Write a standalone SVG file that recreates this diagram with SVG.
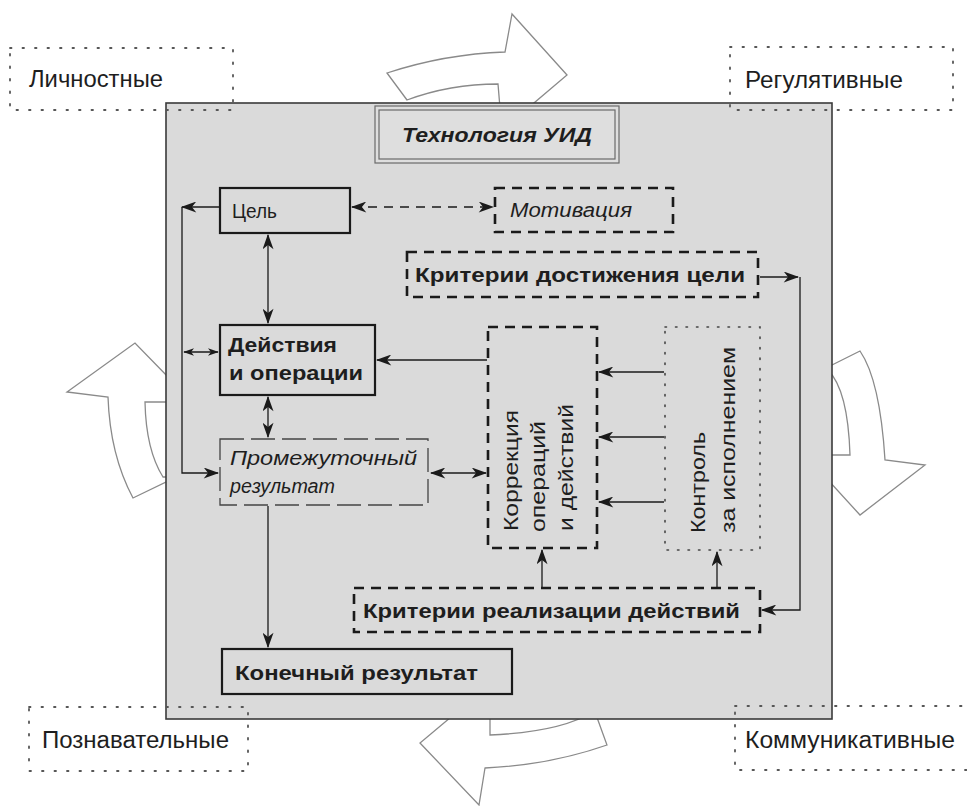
<svg xmlns="http://www.w3.org/2000/svg" width="967" height="806" viewBox="0 0 967 806">
<defs>
<marker id="ah" viewBox="0 0 14 10" refX="13" refY="5" markerWidth="16" markerHeight="11" markerUnits="userSpaceOnUse" orient="auto-start-reverse">
<path d="M0,0 L14,5 L0,10 L4,5 Z" fill="#1a1a1a"/>
</marker>
<marker id="ahs" viewBox="0 0 14 10" refX="13" refY="5" markerWidth="11" markerHeight="8" markerUnits="userSpaceOnUse" orient="auto-start-reverse">
<path d="M0,0 L14,5 L0,10 L4,5 Z" fill="#1a1a1a"/>
</marker>
</defs>
<style>
text{font-family:"Liberation Sans",Arial,sans-serif;fill:#1e1e1e}
.side{font-size:23px}
.reg{font-size:20px}
.b{font-weight:bold}
.i{font-style:italic}
.hollow{fill:#ffffff;stroke:#8a8a8a;stroke-width:1.3;stroke-linejoin:miter}
.solid{fill:none;stroke:#1a1a1a;stroke-width:2.2}
.dash{fill:none;stroke:#1a1a1a;stroke-width:2.6;stroke-dasharray:10 7}
.ldash{fill:none;stroke:#444;stroke-width:1.3;stroke-dasharray:24 7}
.dot{fill:none;stroke:#444;stroke-width:1.6;stroke-dasharray:1.5 9;stroke-linecap:round}
.sdot{fill:none;stroke:#555;stroke-width:1.8;stroke-dasharray:1.5 11;stroke-linecap:round}
.con{fill:none;stroke:#1a1a1a;stroke-width:1.3}
.cond{fill:none;stroke:#1a1a1a;stroke-width:1.6;stroke-dasharray:9 7}
</style>

<g id="cycle-arrows">
<path class="hollow" d="M407,100 L387,73 Q445,54 505,52 L512,14 L567,75 L528,108 L500,108 L498,84 Q450,84 407,100 Z"/>
<path class="hollow" d="M828,367 L860,351 Q880,380 885,460 L925,465 L860,515 L828,480 L828,455 L850,455 Q848,390 828,370 Z"/>
<path class="hollow" d="M170,379 L135,343 L67,392 L108,397 Q110,455 133,498 L170,480 L170,477 L163,477 Q146,450 145,402 L170,402 Z"/>
<path class="hollow" d="M457,712 L420,743 L479,805 L485,768 Q550,765 607,745 L595,712 L593,712 Q560,732 490,735 L490,712 Z"/>
</g>

<g id="panel">
<rect x="166" y="103" width="666" height="616" fill="#dadada" stroke="#3a3a3a" stroke-width="1.6"/>
</g>

<g id="lichnostnye">
<rect class="sdot" x="10" y="48" width="223" height="62"/>
<text class="side" x="29" y="87" textLength="134" lengthAdjust="spacingAndGlyphs">Личностные</text>
</g>
<g id="regulyativnye">
<rect class="sdot" x="730" y="47" width="223" height="63"/>
<text class="side" x="745" y="88" textLength="158" lengthAdjust="spacingAndGlyphs">Регулятивные</text>
</g>
<g id="poznavatelnye">
<rect class="sdot" x="29" y="707" width="219" height="64"/>
<text class="side" x="42" y="748" textLength="187" lengthAdjust="spacingAndGlyphs">Познавательные</text>
</g>
<g id="kommunikativnye">
<rect class="sdot" x="735" y="706" width="240" height="64"/>
<text class="side" x="745" y="748" textLength="210" lengthAdjust="spacingAndGlyphs">Коммуникативные</text>
</g>

<g id="title">
<rect x="375" y="106" width="244" height="57" fill="#dedede" stroke="#6a6a6a" stroke-width="1.2"/>
<rect x="379" y="110" width="236" height="49" fill="none" stroke="#6a6a6a" stroke-width="1.2"/>
<text class="b i" x="402" y="142" font-size="21" textLength="190" lengthAdjust="spacingAndGlyphs">Технология  УИД</text>
</g>

<g id="tsel">
<rect class="solid" x="220" y="188" width="130" height="45"/>
<text class="reg" x="232" y="218" textLength="45" lengthAdjust="spacingAndGlyphs">Цель</text>
</g>
<g id="motivatsiya">
<rect class="dash" x="495" y="188" width="178" height="44"/>
<text class="reg i" x="510" y="217" textLength="122" lengthAdjust="spacingAndGlyphs">Мотивация</text>
</g>
<g id="kriterii-dostizheniya">
<rect class="dash" x="407" y="252" width="351" height="45"/>
<text class="reg b" x="415" y="282" textLength="330" lengthAdjust="spacingAndGlyphs">Критерии  достижения  цели</text>
</g>
<g id="deystviya">
<rect class="solid" x="220" y="325" width="155" height="70"/>
<text class="b" font-size="21" x="228" y="352" textLength="109" lengthAdjust="spacingAndGlyphs">Действия</text>
<text class="b" font-size="21" x="229" y="380" textLength="134" lengthAdjust="spacingAndGlyphs">и  операции</text>
</g>
<g id="promezhutochny">
<rect class="ldash" x="220" y="439" width="208" height="66"/>
<text class="reg i" x="230" y="465" textLength="187" lengthAdjust="spacingAndGlyphs">Промежуточный</text>
<text class="reg i" x="230" y="493" textLength="105" lengthAdjust="spacingAndGlyphs">результат</text>
</g>
<g id="korrektsiya">
<rect class="dash" x="488" y="327" width="109" height="221"/>
<text class="reg" transform="translate(518,531) rotate(-90)" textLength="121" lengthAdjust="spacingAndGlyphs">Коррекция</text>
<text class="reg" transform="translate(545,532) rotate(-90)" textLength="111" lengthAdjust="spacingAndGlyphs">операций</text>
<text class="reg" transform="translate(573,531) rotate(-90)" textLength="127" lengthAdjust="spacingAndGlyphs">и  действий</text>
</g>
<g id="kontrol">
<rect class="dot" x="665" y="327" width="95" height="223"/>
<text class="reg" transform="translate(705,533) rotate(-90)" textLength="101" lengthAdjust="spacingAndGlyphs">Контроль</text>
<text class="reg" transform="translate(735,533) rotate(-90)" textLength="186" lengthAdjust="spacingAndGlyphs">за  исполнением</text>
</g>
<g id="kriterii-realizatsii">
<rect class="dash" x="354" y="588" width="406" height="44"/>
<text class="reg b" x="363" y="618" textLength="377" lengthAdjust="spacingAndGlyphs">Критерии  реализации  действий</text>
</g>
<g id="konechny">
<rect class="solid" x="222" y="649" width="290" height="45"/>
<text class="b" font-size="21" x="235" y="680" textLength="243" lengthAdjust="spacingAndGlyphs">Конечный  результат</text>
</g>

<g id="connectors">
<path class="cond" d="M352,207 H493" marker-start="url(#ah)" marker-end="url(#ah)"/>
<path class="con" d="M268,235 V323" marker-start="url(#ah)" marker-end="url(#ah)"/>
<path class="con" d="M220,207 H182" marker-end="url(#ah)"/>
<path class="con" d="M182,207 V473 H218" marker-end="url(#ah)"/>
<path class="con" d="M184,352 H218" marker-start="url(#ahs)" marker-end="url(#ahs)"/>
<path class="con" d="M268,397 V437" marker-start="url(#ah)" marker-end="url(#ah)"/>
<path class="con" d="M431,473 H486" marker-start="url(#ah)" marker-end="url(#ah)"/>
<path class="con" d="M487,360 H377" marker-end="url(#ah)"/>
<path class="con" d="M664,372 H599" marker-end="url(#ah)"/>
<path class="con" d="M664,437 H599" marker-end="url(#ah)"/>
<path class="con" d="M664,502 H599" marker-end="url(#ah)"/>
<path class="con" d="M542,587 V550" marker-end="url(#ah)"/>
<path class="con" d="M717,587 V552" marker-end="url(#ah)"/>
<path class="con" d="M760,277 H798" marker-end="url(#ah)"/>
<path class="con" d="M800,277 V610 H762" marker-end="url(#ah)"/>
<path class="con" d="M268,506 V647" marker-end="url(#ah)"/>
</g>
</svg>
